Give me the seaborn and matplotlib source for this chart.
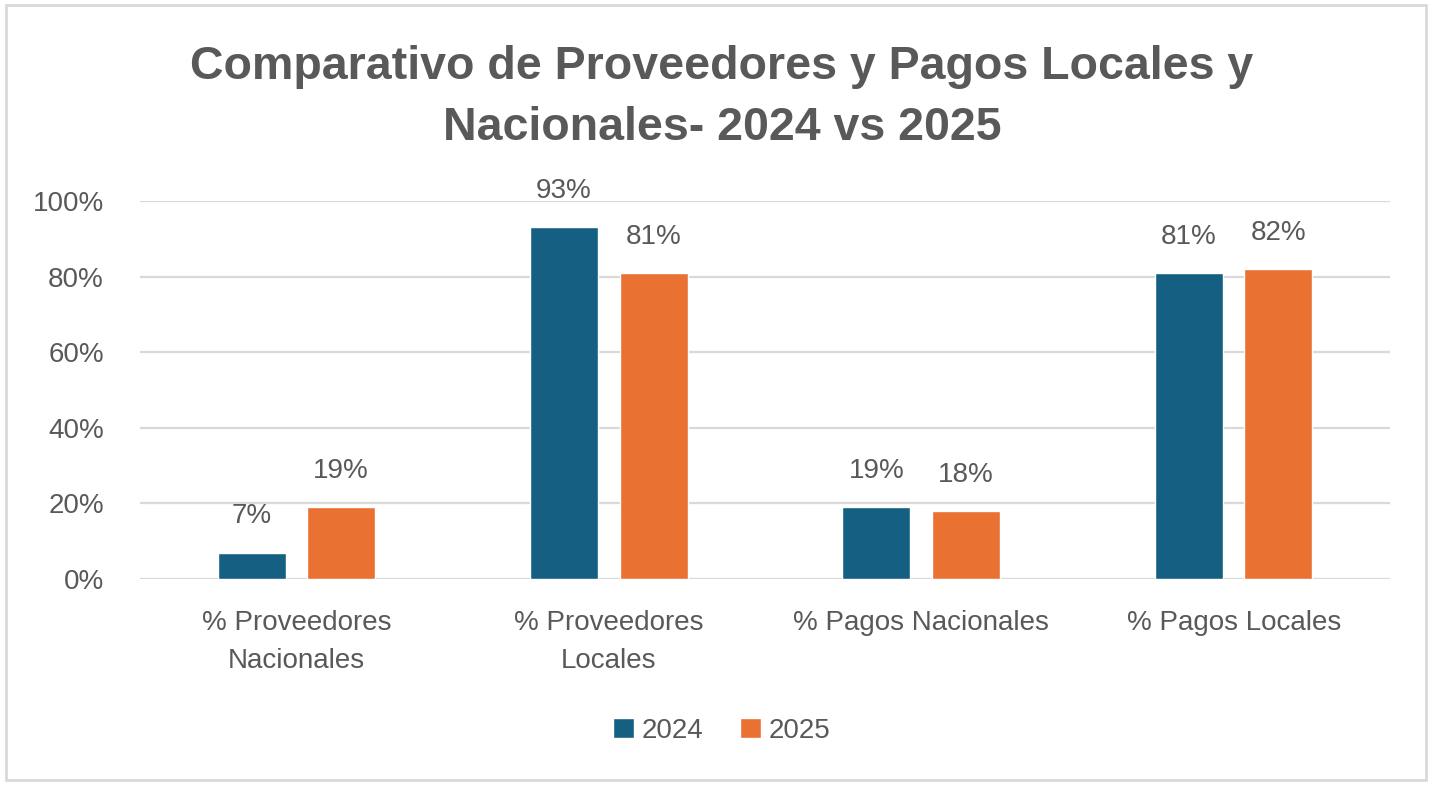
import pandas as pd
import numpy as np
import seaborn as sns
import matplotlib.pyplot as plt
from matplotlib.patches import Rectangle
from matplotlib.ticker import PercentFormatter

# chart data
categorias = ['% Proveedores\nNacionales', '% Proveedores\nLocales',
              '% Pagos Nacionales', '% Pagos Locales']
valores_2024 = [7, 93, 19, 81]
valores_2025 = [19, 81, 18, 82]
anios = ['2024', '2025']

df = pd.DataFrame({
    'categoria': categorias * 2,
    'anio': [anios[0]] * 4 + [anios[1]] * 4,
    'valor': valores_2024 + valores_2025,
})

sns.set_theme(style='white')
plt.rcParams['font.family'] = ['Liberation Sans', 'DejaVu Sans']
gris = '#595959'
colores = {'2024': '#156082', '2025': '#E97132'}

fig = plt.figure(figsize=(14.35, 7.85), dpi=100)
ax = fig.add_axes([0.0976, 0.2624, 0.871, 0.4816])

sns.barplot(data=df, x='categoria', y='valor', hue='anio', palette=colores,
            width=0.573, gap=0.24, ax=ax, legend=True, saturation=1)

ax.set_ylim(0, 100)
ax.set_yticks(np.arange(0, 101, 20))
ax.yaxis.set_major_formatter(PercentFormatter(decimals=0))
ax.grid(axis='y', color='#d9d9d9', linewidth=1.6)
ax.set_axisbelow(True)
for s in ax.spines.values():
    s.set_visible(False)
ax.set_xlabel('')
ax.set_ylabel('')
ax.tick_params(axis='both', length=0, labelsize=20, labelcolor=gris)
ax.tick_params(axis='x', pad=22)
ax.tick_params(axis='y', pad=26)
for lbl in ax.get_xticklabels():
    lbl.set_linespacing(1.6)

# data labels
for cont in ax.containers:
    for bar in cont:
        h = bar.get_height()
        ax.annotate(f'{h:.0f}%', (bar.get_x() + bar.get_width() / 2, h),
                    xytext=(0, 26), textcoords='offset points',
                    ha='center', va='center', fontsize=20, color=gris)

# legend at the bottom
handles, labels = ax.get_legend_handles_labels()
ax.get_legend().remove()
fig.legend(handles, labels, loc='center', bbox_to_anchor=(0.503, 0.069), ncol=2,
           frameon=False, fontsize=20, labelcolor=gris, handlelength=0.75,
           handleheight=0.75, handletextpad=0.3, columnspacing=1.3)

fig.text(0.503, 0.876, 'Comparativo de Proveedores y Pagos Locales y\nNacionales- 2024 vs 2025',
         ha='center', va='center', fontsize=33.5, fontweight='bold', color=gris,
         linespacing=1.5)

# outer border
fig.add_artist(Rectangle((0.004, 0.006), 0.99, 0.988, transform=fig.transFigure,
                         fill=False, edgecolor='#d9d9d9', linewidth=2))

fig.savefig('out.png', dpi=100)
